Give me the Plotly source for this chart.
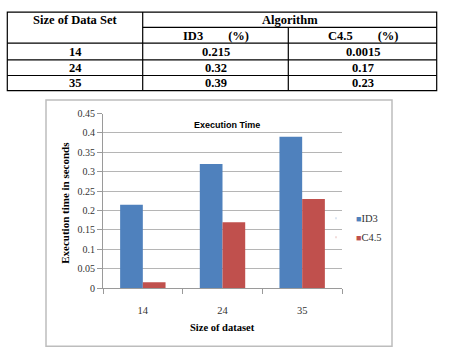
import plotly.graph_objects as go

# ---- data ----
datasets = ["14", "24", "35"]
id3_values = [0.215, 0.32, 0.39]
c45_values = [0.015, 0.17, 0.23]
y_ticks = [0, 0.05, 0.1, 0.15, 0.2, 0.25, 0.3, 0.35, 0.4, 0.45]
y_tick_labels = ["0", "0.05", "0.1", "0.15", "0.2", "0.25", "0.3", "0.35", "0.4", "0.45"]
table_header = ["Size of Data Set", "Algorithm", "ID3        (%)", "C4.5        (%)"]
table_sizes = ["14", "24", "35"]
table_id3 = ["0.215", "0.32", "0.39"]
table_c45 = ["0.0015", "0.17", "0.23"]
series_names = ["ID3", "C4.5"]
series_colors = ["#4f81bd", "#c0504d"]

W, H = 449, 361


def px(x):
    return x / W


def py(y):
    return 1 - y / H


fig = go.Figure()
for name, vals, col in zip(series_names, [id3_values, c45_values], series_colors):
    fig.add_trace(go.Bar(name=name, x=datasets, y=vals, marker=dict(color=col, line=dict(width=0)),
                         showlegend=False))
# legend entries: small coloured square right next to the label
for name, col in zip(series_names, series_colors):
    fig.add_trace(go.Scatter(name='<span style="color:%s;font-size:9px">■</span>%s' % (col, name),
                             x=[None], y=[None], mode="markers",
                             marker=dict(symbol="square", size=1, color=col, opacity=0), showlegend=True))

serif = "Times New Roman, Liberation Serif, serif"
shapes = []
annotations = []

# ---- table ----
line = dict(color="black", width=1.2)
L, R, T, B = 7.3, 436.7, 7.3, 88.3
c1, c2 = 142.7, 288.3
shapes.append(dict(type="rect", xref="paper", yref="paper", x0=px(L), x1=px(R), y0=py(B), y1=py(T), line=line))
shapes.append(dict(type="line", xref="paper", yref="paper", x0=px(c1), x1=px(c1), y0=py(B), y1=py(T), line=line))
shapes.append(dict(type="line", xref="paper", yref="paper", x0=px(c2), x1=px(c2), y0=py(B), y1=py(23), line=line))
shapes.append(dict(type="line", xref="paper", yref="paper", x0=px(c1), x1=px(R), y0=py(23), y1=py(23), line=line))
for yr in (39.3, 56.7, 72.7):
    shapes.append(dict(type="line", xref="paper", yref="paper", x0=px(L), x1=px(R), y0=py(yr), y1=py(yr), line=line))

tfont = dict(family=serif, size=12.5, color="black")


def cell(text, xc, yc):
    annotations.append(dict(text="<b>%s</b>" % text, x=px(xc), y=py(yc), xref="paper", yref="paper",
                            showarrow=False, font=tfont, xanchor="center", yanchor="middle"))


cell(table_header[0], (L + c1) / 2, 15.5)
cell(table_header[1], (c1 + R) / 2, 15.5)
cell(table_header[2], (c1 + c2) / 2, 31.5)
cell(table_header[3], (c2 + R) / 2, 31.5)
row_y = [48.5, 64.5, 80.5]
for i in range(3):
    cell(table_sizes[i], (L + c1) / 2, row_y[i])
    cell(table_id3[i], (c1 + c2) / 2, row_y[i])
    cell(table_c45[i], (c2 + R) / 2, row_y[i])

# ---- chart frame ----
shapes.append(dict(type="rect", xref="paper", yref="paper", x0=px(46), x1=px(392), y0=py(352), y1=py(98),
                   line=dict(color="#bdbdbd", width=1.5), layer="below"))

annotations.append(dict(text="<b>Execution Time</b>", x=px(227), y=py(124), xref="paper", yref="paper",
                        showarrow=False, font=dict(family="Liberation Sans", size=9, color="black"),
                        xanchor="center", yanchor="middle"))
annotations.append(dict(text="<b>Execution time in seconds</b>", x=px(65), y=py(204), xref="paper", yref="paper",
                        showarrow=False, textangle=-90, font=dict(family=serif, size=11, color="black"),
                        xanchor="center", yanchor="middle"))
annotations.append(dict(text="<b>Size of dataset</b>", x=px(222), y=py(333), xref="paper", yref="paper",
                        showarrow=False, font=dict(family=serif, size=10.5, color="black"),
                        xanchor="center", yanchor="middle"))

fig.update_layout(
    width=W, height=H,
    margin=dict(l=0, r=0, t=0, b=0),
    paper_bgcolor="white", plot_bgcolor="white",
    barmode="group", bargap=0.43, bargroupgap=0,
    shapes=shapes, annotations=annotations,
    showlegend=True,
    legend=dict(x=px(316), y=py(205), xanchor="left", yanchor="top",
                font=dict(family=serif, size=10.5, color="#333"),
                bgcolor="rgba(0,0,0,0)", itemwidth=30, tracegroupgap=0, itemclick=False),
    xaxis=dict(domain=[px(103), px(342)], showline=True, linecolor="#9a9a9a", linewidth=1,
               ticks="outside", tickson="boundaries", ticklen=5, tickcolor="#9a9a9a", ticklabelstandoff=12,
               tickfont=dict(family=serif, size=10.5, color="#333"), showgrid=False),
    yaxis=dict(domain=[py(292), py(112)], range=[0, 0.45], tickvals=y_ticks, ticktext=y_tick_labels,
               showline=True, linecolor="#9a9a9a", linewidth=1, ticks="outside", ticklen=5, tickcolor="#9a9a9a",
               showgrid=True, gridcolor="#b5b5b5", gridwidth=1, zeroline=False,
               tickfont=dict(family=serif, size=10, color="#333")),
)

fig.write_html("out.html", config={"displayModeBar": False},
               post_script="document.body.style.margin='0';")
